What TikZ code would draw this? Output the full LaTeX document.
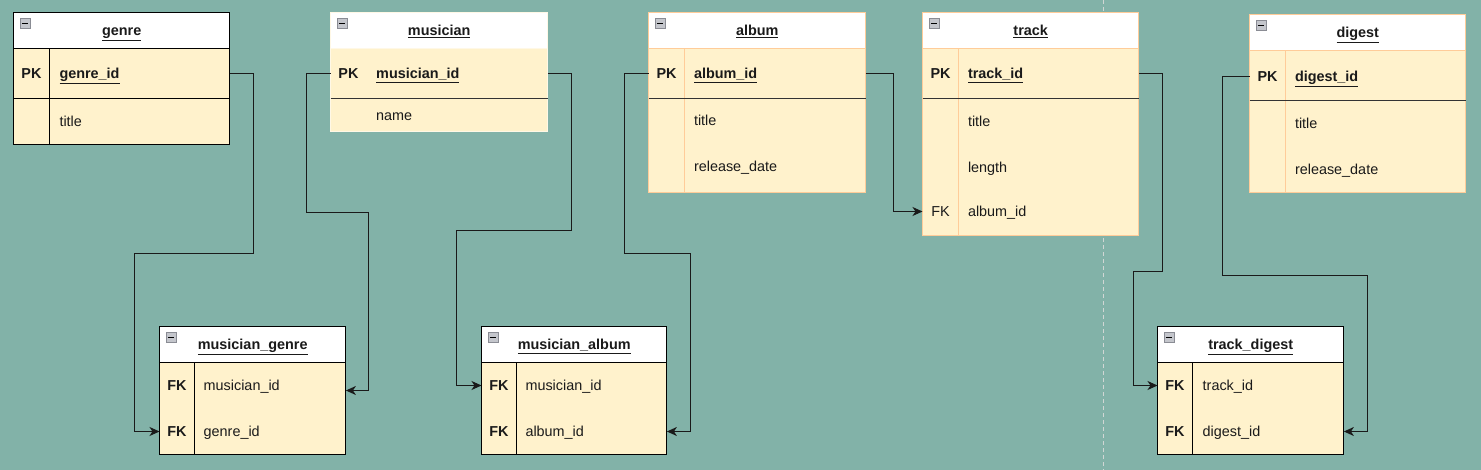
\documentclass[tikz,border=0pt]{standalone}
\usepackage{fontspec}
\setmainfont{Liberation Sans}
\usetikzlibrary{arrows.meta,calc}
\definecolor{bg}{HTML}{82B2A8}
\definecolor{rowfill}{HTML}{FFF2CC}
\definecolor{orng}{HTML}{FFCC99}
\definecolor{mborder}{HTML}{FFF8E6}
\definecolor{ln}{HTML}{1A1A1A}
\definecolor{dk}{HTML}{333333}
\definecolor{icfill}{HTML}{C4C6CC}
\definecolor{icborder}{HTML}{8A8C94}
\definecolor{guide}{HTML}{D0D6D4}
\tikzset{
  every node/.style={font=\fontsize{14.4}{17}\selectfont, text=ln},
  tblbody/.style={fill=rowfill, inner sep=0pt, anchor=north west},
  tblhead/.style={fill=white, inner sep=0pt, anchor=north west},
  titletxt/.style={font=\fontsize{14.4}{17}\selectfont\bfseries, inner sep=0pt, text height=10.4pt, text depth=0pt},
  keytxt/.style={font=\fontsize{14.4}{17}\selectfont\bfseries, inner sep=0pt, text height=10.4pt, text depth=0pt},
  keyreg/.style={inner sep=0pt, text height=10.4pt, text depth=0pt},
  fieldtxt/.style={anchor=west, inner sep=0pt, text height=10.4pt, text depth=0pt},
  fieldkey/.style={anchor=west, inner sep=0pt, text height=10.4pt, text depth=0pt, font=\fontsize{14.4}{17}\selectfont\bfseries},
  icon/.style={draw=icborder, fill=icfill, minimum size=10pt, inner sep=0pt, anchor=north west, line width=0.6pt,
    path picture={\draw[black, line width=1.1pt] ([xshift=2pt]path picture bounding box.west) -- ([xshift=-2pt]path picture bounding box.east);}},
  sepline/.style={line width=1.1pt},
  conn/.style={draw=ln, line width=1.1pt, -{Stealth[length=10pt, width=9pt, inset=3pt]}},
  guideline/.style={draw=guide, line width=0.8pt, dash pattern=on 4pt off 3pt},
}
% #1 name, #2 L, #3 T, #4 R, #5 B, #6 header bottom, #7 border colour, #8 title
\newcommand{\ertbl}[8]{%
  \node[tblbody, minimum width={#4-#2}, minimum height={#5-#3}] (#1) at (#2,#3) {};
  \node[tblhead, minimum width={#4-#2}, minimum height={#6-#3}] (#1-h) at (#2,#3) {};
  \draw[draw=#7, sepline] (#1-h.south west) -- (#1-h.south east);
  \draw[draw=#7, sepline] (#1.north west) rectangle (#1.south east);
  \node[titletxt] (#1-t) at (#1-h.center) {\underline{#8}};
  \node[icon] (#1-i) at ($(#1.north west)+(6,5.5)$) {};
}
\begin{document}
\begin{tikzpicture}[x=1pt, y=-1pt]
\useasboundingbox (0,0) rectangle (1481,470);
\fill[bg] (0,0) rectangle (1481,470);
\draw[guideline] (1103.5,0) -- (1103.5,470);

% genre
\ertbl{genre}{13.5}{12.5}{229.5}{144.5}{48.5}{black}{genre}
\draw[black, sepline] (49.5,48.5) -- (49.5,144.5);
\draw[black, sepline] (13.5,98.5) -- (229.5,98.5);
\node[keytxt] (g-pk) at (31.5,73.5) {PK};
\node[fieldkey] (g-id) at (59.3,73.5) {\underline{genre\_id}};
\node[fieldtxt] (g-title) at (59.3,121) {title};

% musician
\ertbl{musician}{330.5}{12.5}{547.5}{131.5}{48.5}{mborder}{musician}
\draw[dk, sepline] (330.5,98.5) -- (547.5,98.5);
\node[keytxt] (m-pk) at (348.4,73.5) {PK};
\node[fieldkey] (m-id) at (376,73.5) {\underline{musician\_id}};
\node[fieldtxt] (m-name) at (376,115) {name};

% album
\ertbl{album}{648.5}{12.5}{865.5}{192.5}{48.5}{orng}{album}
\draw[orng, sepline] (684.5,48.5) -- (684.5,192.5);
\draw[dk, sepline] (648.5,98.5) -- (865.5,98.5);
\node[keytxt] (a-pk) at (666.5,73.5) {PK};
\node[fieldkey] (a-id) at (693.8,73.5) {\underline{album\_id}};
\node[fieldtxt] (a-title) at (693.8,120) {title};
\node[fieldtxt] (a-date) at (693.8,166.7) {release\_date};

% track
\ertbl{track}{922.5}{12.5}{1138.5}{235.5}{48.5}{orng}{track}
\draw[orng, sepline] (958.5,48.5) -- (958.5,235.5);
\draw[dk, sepline] (922.5,98.5) -- (1138.5,98.5);
\node[keytxt] (t-pk) at (940.5,73.5) {PK};
\node[fieldkey] (t-id) at (967.8,73.5) {\underline{track\_id}};
\node[fieldtxt] (t-title) at (967.8,121) {title};
\node[fieldtxt] (t-len) at (967.8,167) {length};
\node[keyreg] (t-fk) at (940.5,211.5) {FK};
\node[fieldtxt] (t-aid) at (967.8,211.5) {album\_id};

% digest
\ertbl{digest}{1249.5}{14.5}{1465.5}{192.5}{50.5}{orng}{digest}
\draw[orng, sepline] (1285.5,50.5) -- (1285.5,192.5);
\draw[dk, sepline] (1249.5,100.5) -- (1465.5,100.5);
\node[keytxt] (d-pk) at (1267.5,76.5) {PK};
\node[fieldkey] (d-id) at (1294.8,76.5) {\underline{digest\_id}};
\node[fieldtxt] (d-title) at (1294.8,123) {title};
\node[fieldtxt] (d-date) at (1294.8,169) {release\_date};

% musician_genre
\ertbl{mg}{159.5}{326.5}{345.5}{454.5}{362.5}{black}{musician\_genre}
\draw[black, sepline] (194.5,362.5) -- (194.5,454.5);
\node[keytxt] (mg-fk1) at (177,385.5) {FK};
\node[fieldtxt] (mg-mid) at (203.5,385.5) {musician\_id};
\node[keytxt] (mg-fk2) at (177,431.5) {FK};
\node[fieldtxt] (mg-gid) at (203.5,431.5) {genre\_id};

% musician_album
\ertbl{ma}{481.5}{326.5}{666.5}{454.5}{362.5}{black}{musician\_album}
\draw[black, sepline] (516.5,362.5) -- (516.5,454.5);
\node[keytxt] (ma-fk1) at (499,385.5) {FK};
\node[fieldtxt] (ma-mid) at (525.3,385.5) {musician\_id};
\node[keytxt] (ma-fk2) at (499,431.5) {FK};
\node[fieldtxt] (ma-aid) at (525.3,431.5) {album\_id};

% track_digest
\ertbl{td}{1157.5}{326.5}{1343.5}{454.5}{362.5}{black}{track\_digest}
\draw[black, sepline] (1192.5,362.5) -- (1192.5,454.5);
\node[keytxt] (td-fk1) at (1175,385.5) {FK};
\node[fieldtxt] (td-tid) at (1202.5,385.5) {track\_id};
\node[keytxt] (td-fk2) at (1175,431.5) {FK};
\node[fieldtxt] (td-did) at (1202.5,431.5) {digest\_id};

% connectors
\draw[conn] (g-id -| genre.east) -- ++(24,0) |- (134.5,253.5) |- (mg-gid -| mg.west);
\draw[conn] (m-id -| musician.west) -- ++(-24,0) |- (368.5,212.5) |- (mg.east |- 0,390.5);
\draw[conn] (m-id -| musician.east) -- ++(24,0) |- (456.5,230.5) |- (ma-mid -| ma.west);
\draw[conn] (a-id -| album.west) -- ++(-24,0) |- (690.5,253.5) |- (ma-aid -| ma.east);
\draw[conn] (a-id -| album.east) -- ++(28,0) |- (t-aid -| track.west);
\draw[conn] (t-id -| track.east) -- ++(24,0) |- (1133.5,271.5) |- (td-tid -| td.west);
\draw[conn] (d-id -| digest.west) -- ++(-27,0) |- (1367.5,275.5) |- (td-did -| td.east);
\end{tikzpicture}
\end{document}
